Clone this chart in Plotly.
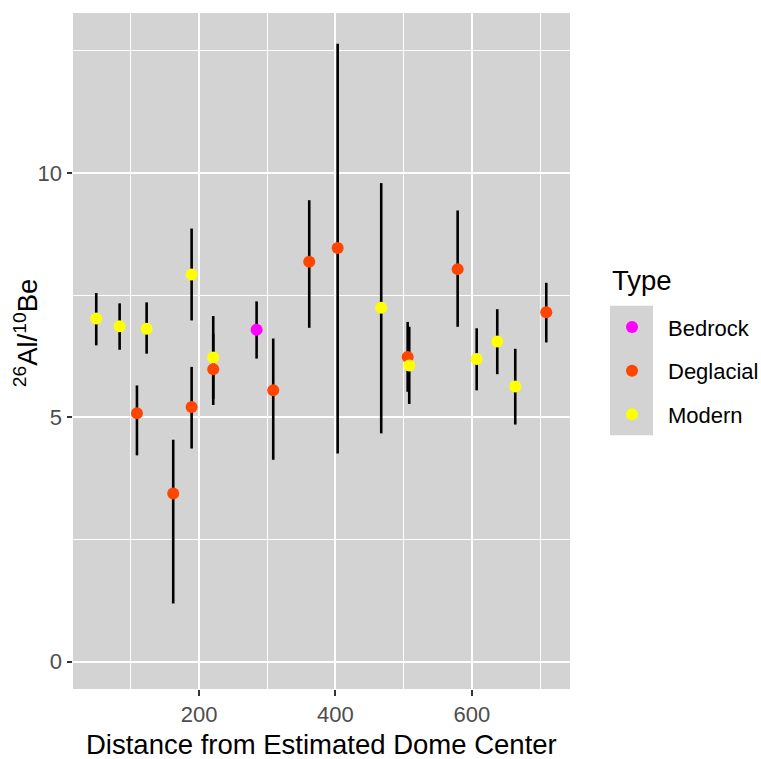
import plotly.graph_objects as go

# ---- data ----
types = ["Bedrock", "Deglacial", "Modern"]
colors = {"Bedrock": "#FF00FF", "Deglacial": "#FF4500", "Modern": "#FFFF00"}

bedrock_x = [284.3]
bedrock_y = [6.79]
bedrock_lo = [6.20]
bedrock_hi = [7.37]

deglacial_x = [108.8, 162.0, 189.0, 220.7, 308.7, 361.5, 403.2, 505.9, 579.2, 709.2]
deglacial_y = [5.08, 3.44, 5.21, 5.98, 5.55, 8.18, 8.46, 6.23, 8.03, 7.15]
deglacial_lo = [4.22, 1.19, 4.36, 5.25, 4.13, 6.83, 4.26, 5.52, 6.85, 6.53]
deglacial_hi = [5.65, 4.54, 6.03, 6.71, 6.61, 9.44, 12.64, 6.95, 9.23, 7.75]

modern_x = [49.1, 83.4, 123.0, 189.0, 220.7, 467.1, 508.2, 607.1, 637.3, 663.7]
modern_y = [7.02, 6.86, 6.81, 7.92, 6.22, 7.24, 6.06, 6.19, 6.55, 5.63]
modern_lo = [6.47, 6.38, 6.30, 6.98, 5.37, 4.67, 5.27, 5.55, 5.88, 4.85]
modern_hi = [7.54, 7.33, 7.35, 8.86, 7.07, 9.79, 6.85, 6.82, 7.21, 6.40]

x_ticks = [200, 400, 600]
y_ticks = [0, 5, 10]

series = {
    "Bedrock": (bedrock_x, bedrock_y, bedrock_lo, bedrock_hi),
    "Deglacial": (deglacial_x, deglacial_y, deglacial_lo, deglacial_hi),
    "Modern": (modern_x, modern_y, modern_lo, modern_hi),
}

FONT = "Liberation Sans, Arial, Helvetica, sans-serif"
PANEL = "#D3D3D3"

# plot-area geometry (pixels)
W, H = 761, 759
L, R, T, B = 73, 570, 12.5, 689
PW, PH = R - L, B - T


def px_x(p):
    return (p - L) / PW


def px_y(p):
    return (B - p) / PH


fig = go.Figure()

# error bars for all series first (points drawn on top)
for t in types:
    x, y, lo, hi = series[t]
    fig.add_trace(go.Scatter(
        x=x, y=y, mode="markers",
        marker=dict(size=1, color="rgba(0,0,0,0)"),
        error_y=dict(type="data", symmetric=False,
                     array=[h - v for h, v in zip(hi, y)],
                     arrayminus=[v - l for v, l in zip(y, lo)],
                     color="black", thickness=2.6, width=0),
        showlegend=False, hoverinfo="skip",
    ))

for t in types:
    x, y, lo, hi = series[t]
    fig.add_trace(go.Scatter(
        x=x, y=y, mode="markers", name=t,
        legendgroup=t,
        marker=dict(size=12, color=colors[t], line=dict(width=0)),
    ))

fig.update_layout(
    width=W, height=H,
    margin=dict(l=L, r=W - R, t=T, b=H - B, autoexpand=False),
    paper_bgcolor="white",
    plot_bgcolor=PANEL,
    font=dict(family=FONT, color="black"),
    xaxis=dict(
        range=[15, 744], tickvals=x_ticks, automargin=False,
        showgrid=True, gridcolor="white", gridwidth=2.2,
        minor=dict(tickvals=[100, 300, 500, 700], showgrid=True,
                   gridcolor="white", gridwidth=1.1, ticks=""),
        zeroline=False, showline=False,
        ticks="outside", ticklen=5.5, tickwidth=2, tickcolor="#333333",
        tickfont=dict(size=22, color="#4D4D4D", family=FONT),
    ),
    yaxis=dict(
        range=[-0.56, 13.27], tickvals=y_ticks, automargin=False,
        showgrid=True, gridcolor="white", gridwidth=2.2,
        minor=dict(tickvals=[2.5, 7.5, 12.5], showgrid=True,
                   gridcolor="white", gridwidth=1.1, ticks=""),
        zeroline=False, showline=False,
        ticks="outside", ticklen=5.5, tickwidth=2, tickcolor="#333333",
        tickfont=dict(size=22, color="#4D4D4D", family=FONT),
    ),
    legend=dict(
        font=dict(size=22, color="black", family=FONT),
        x=px_x(596), xanchor="left",
        y=px_y(306), yanchor="top",
        traceorder="grouped", tracegroupgap=12, itemwidth=62,
        bgcolor="rgba(0,0,0,0)", itemsizing="constant",
    ),
    shapes=[dict(type="rect", xref="paper", yref="paper",
                 x0=px_x(610), x1=px_x(653),
                 y0=px_y(435), y1=px_y(305.5),
                 fillcolor=PANEL, line=dict(width=0), layer="below")],
    annotations=[
        dict(text="Distance from Estimated Dome Center", xref="paper", yref="paper",
             x=0.5, y=px_y(745), xanchor="center", yanchor="middle", showarrow=False,
             font=dict(size=27.5, color="black", family=FONT)),
        dict(text="<sup>26</sup>Al/<sup>10</sup>Be", xref="paper", yref="paper",
             x=px_x(26), y=px_y(333), xanchor="center", yanchor="middle",
             textangle=-90, showarrow=False,
             font=dict(size=27.5, color="black", family=FONT)),
        dict(text="Type", xref="paper", yref="paper",
             x=px_x(610), y=px_y(280), xanchor="left", yanchor="middle", showarrow=False,
             font=dict(size=27.5, color="black", family=FONT)),
    ],
)

fig.write_html(
    "out.html",
    config={"displayModeBar": False},
    post_script="document.body.style.margin='0';document.body.style.overflow='hidden';",
)
